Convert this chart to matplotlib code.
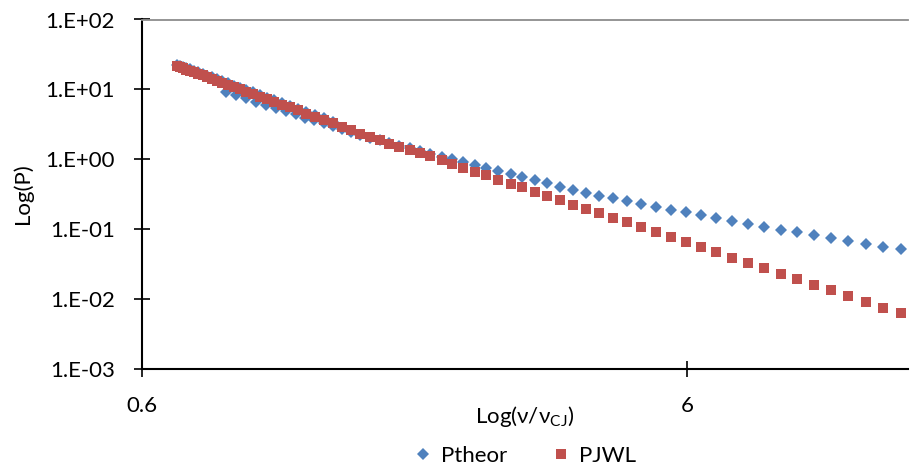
import matplotlib
matplotlib.use('Agg')
import matplotlib.pyplot as plt
from matplotlib.ticker import FixedLocator, NullLocator

#%% data
# dense start, where both series overlap
v_dense = [0.696, 0.705, 0.714, 0.724, 0.735, 0.748, 0.760, 0.775, 0.790, 0.807,
           0.824, 0.843, 0.863, 0.885, 0.908, 0.933, 0.959, 0.988, 1.017, 1.050,
           1.084, 1.121, 1.160, 1.202, 1.246, 1.294, 1.345]
p_jwl_dense = [21.47, 20.71, 19.97, 19.13, 18.39, 17.51, 16.67, 15.81, 14.95, 14.09,
               13.28, 12.43, 11.64, 10.82, 10.07, 9.30, 8.62, 7.91, 7.26, 6.65,
               6.08, 5.53, 5.01, 4.52, 4.08, 3.66, 3.30]
p_theor_dense = [22.6, 21.8, 20.98, 20.10, 19.32, 18.40, 17.51, 16.61, 15.71, 14.80,
                 13.95, 13.06, 12.23, 11.37, 10.58, 9.77, 9.06, 8.31, 7.63, 6.99,
                 6.39, 5.81, 5.26, 4.75, 4.29, 3.85, 3.47]

# lower Ptheor branch
v_low = [0.856, 0.893, 0.931, 0.971, 1.013, 1.057, 1.103, 1.150, 1.197, 1.243,
         1.292, 1.342]
p_theor_low = [9.27, 8.32, 7.48, 6.71, 6.04, 5.42, 4.88, 4.39, 3.96, 3.60,
               3.27, 2.98]

# tail, same v for both series
v_tail = [1.397, 1.451, 1.510, 1.572, 1.637, 1.707, 1.781, 1.858, 1.942, 2.030,
          2.127, 2.228, 2.334, 2.450, 2.572, 2.706, 2.847, 2.994, 3.157, 3.328,
          3.508, 3.706, 3.916, 4.145, 4.398, 4.667, 4.951, 5.264, 5.608, 5.975,
          6.366, 6.796, 7.270, 7.782, 8.326, 8.925, 9.569, 10.28, 11.05, 11.87,
          12.79, 13.76, 14.82]
p_jwl_tail = [2.870, 2.583, 2.301, 2.064, 1.858, 1.677, 1.519, 1.367, 1.227, 1.097,
              0.977, 0.862, 0.761, 0.667, 0.587, 0.514, 0.450, 0.395, 0.344, 0.300,
              0.260, 0.2256, 0.1958, 0.1694, 0.1466, 0.1252, 0.1068, 0.0909, 0.0774, 0.0654,
              0.0553, 0.0467, 0.0392, 0.0330, 0.0277, 0.0232, 0.0193, 0.0161, 0.0134, 0.01108,
              0.00915, 0.00756, 0.00624]
p_theor_tail = [2.713, 2.458, 2.248, 2.044, 1.864, 1.711, 1.571, 1.441, 1.314, 1.199,
                1.093, 0.997, 0.909, 0.826, 0.751, 0.680, 0.616, 0.558, 0.502, 0.4535,
                0.408, 0.3686, 0.3339, 0.3024, 0.2758, 0.2524, 0.2301, 0.2091, 0.1901, 0.1734,
                0.1581, 0.1437, 0.1306, 0.1187, 0.1079, 0.0984, 0.0897, 0.0818, 0.0743, 0.0678,
                0.0618, 0.0564, 0.0516]

x_ticks = [0.6, 6]
x_tick_labels = ['0.6', '6']
y_ticks = [1e-3, 1e-2, 1e-1, 1e0, 1e1, 1e2]
y_tick_labels = ['1.E-03', '1.E-02', '1.E-01', '1.E+00', '1.E+01', '1.E+02']

#%% plot
BLUE = '#4F81BD'
RED = '#C0504D'
plt.rcParams['font.family'] = ['Lato', 'DejaVu Sans']

fig = plt.figure(figsize=(9.1, 4.69), dpi=100)
ax = fig.add_axes([142/910, 1-369/469, 766/910, 349.5/469])

ax.plot(v_dense + v_low + v_tail, p_theor_dense + p_theor_low + p_theor_tail,
        linestyle='none', marker='D', ms=6.0, mew=0, color=BLUE, label='Ptheor')
ax.plot(v_dense + v_tail, p_jwl_dense + p_jwl_tail,
        linestyle='none', marker='s', ms=6.8, mew=0, color=RED, label='PJWL')

ax.set_xscale('log')
ax.set_yscale('log')
ax.set_xlim(0.6, 15.27)
ax.set_ylim(1e-3, 1e2)
ax.xaxis.set_major_locator(FixedLocator(x_ticks))
ax.xaxis.set_minor_locator(NullLocator())
ax.set_xticklabels(x_tick_labels)
ax.yaxis.set_major_locator(FixedLocator(y_ticks))
ax.yaxis.set_minor_locator(NullLocator())
ax.set_yticklabels(y_tick_labels)

for s in ['left', 'bottom']:
    ax.spines[s].set_linewidth(1.5)
    ax.spines[s].set_color('black')
ax.spines['right'].set_visible(False)
ax.spines['top'].set_color('#8C8C8C')
ax.spines['top'].set_linewidth(1.3)

ax.tick_params(axis='both', direction='inout', length=11, width=1.2,
               color='black', labelsize=16)
ax.tick_params(axis='y', pad=14)
ax.tick_params(axis='x', pad=14)

fig.text(23/910, 1-194/469, 'Log(P)', rotation=90, ha='center', va='center', fontsize=16)
fig.text(525/910, 1-416/469, 'Log(ν/ν$_\\mathregular{CJ}$)', ha='center', va='center', fontsize=16)

fig.legend(loc='center', bbox_to_anchor=(525/910, 1-456/469), ncol=2, frameon=False,
           fontsize=16, handlelength=0.8, handletextpad=0.4, columnspacing=2.0,
           borderpad=0, markerscale=1.0)

fig.savefig('out.png', dpi=100)
